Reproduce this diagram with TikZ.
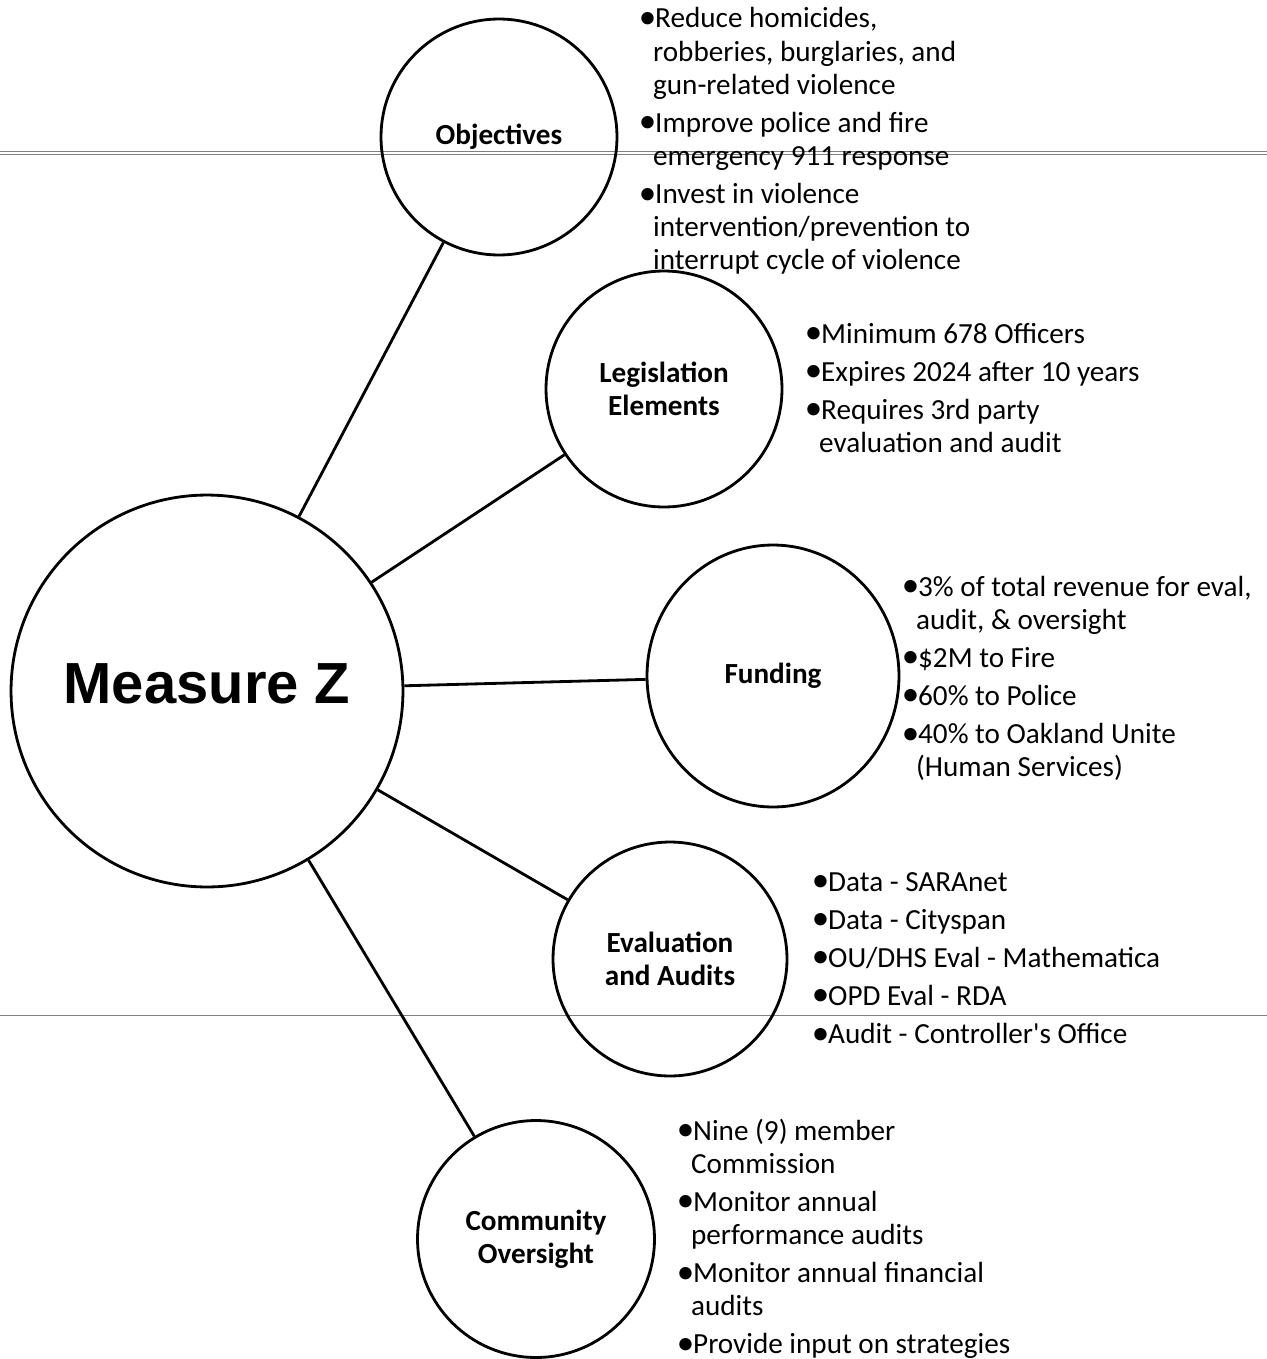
\documentclass[tikz,border=0pt]{standalone}
\usepackage{fontspec}
\setmainfont{Carlito}
\newfontfamily\hubfont{Liberation Sans}
\usetikzlibrary{shapes.geometric}

\newcommand{\bul}{\makebox[0.44em][l]{\hspace{-0.12em}\raisebox{-0.03em}{\scalebox{1.2}{\textbullet}}}}
\newcommand{\cnt}{\hspace*{0.37em}}

\begin{document}
\begin{tikzpicture}[x=0.02cm, y=-0.02cm,
    hub/.style={circle, draw, line width=1.6pt, minimum size=7.84cm, inner sep=0pt,
        font=\hubfont\bfseries\fontsize{33}{40}\selectfont},
    topic/.style={circle, draw, line width=1.6pt, minimum size=4.72cm, inner sep=0pt,
        align=center, font=\bfseries\fontsize{16.6}{18.8}\selectfont},
    bullets/.style={anchor=base west, inner sep=0pt, font=\fontsize{16.6}{18.8}\selectfont},
    link/.style={line width=1.6pt},
    scanline/.style={gray, line width=0.5pt}]

    \useasboundingbox (0,0) rectangle (1267,1359);

    % Scan lines across the page
    \draw[scanline] (0,151) -- (1267,151);
    \draw[scanline] (0,154) -- (1267,154);
    \draw[scanline] (0,1015) -- (1267,1015);

    % Centre circle
    \node[hub, text depth=0.28cm] (mz) at (207,691) {Measure Z};

    % Topic circles
    \node[topic] (obj) at (499,137) {Objectives};
    \node[topic] (leg) at (664,389) {Legislation\\Elements};
    \node[topic, ellipse, minimum width=5.04cm, minimum height=5.24cm] (fund) at (773,676) {Funding};
    \node[topic, minimum size=4.68cm] (eval) at (670,959) {Evaluation\\and Audits};
    \node[topic, minimum size=4.74cm] (comm) at (536,1239) {Community\\Oversight};

    % Links from the centre
    \draw[link] (mz) -- (obj);
    \draw[link] (mz) -- (leg);
    \draw[link] (mz) -- (fund);
    \draw[link] (mz) -- (eval);
    \draw[link] (mz) -- (comm);

    % Bullet lists
    \node[bullets] (objtext) at (642,28) {\begin{tabular}[t]{@{}l@{}}
        \bul Reduce homicides,\\
        \cnt robberies, burglaries, and\\
        \cnt gun-related violence\\[0.1cm]
        \bul Improve police and fire\\
        \cnt emergency 911 response\\[0.1cm]
        \bul Invest in violence\\
        \cnt intervention/prevention to\\
        \cnt interrupt cycle of violence
    \end{tabular}};

    \node[bullets] (legtext) at (808,343) {\begin{tabular}[t]{@{}l@{}}
        \bul Minimum 678 Officers\\[0.1cm]
        \bul Expires 2024 after 10 years\\[0.1cm]
        \bul Requires 3rd party\\
        \cnt evaluation and audit
    \end{tabular}};

    \node[bullets] (fundtext) at (905,596) {\begin{tabular}[t]{@{}l@{}}
        \bul 3\% of total revenue for eval,\\
        \cnt audit, \& oversight\\[0.1cm]
        \bul \$2M to Fire\\[0.1cm]
        \bul 60\% to Police\\[0.1cm]
        \bul 40\% to Oakland Unite\\
        \cnt (Human Services)
    \end{tabular}};

    \node[bullets] (evaltext) at (815,891) {\begin{tabular}[t]{@{}l@{}}
        \bul Data - SARAnet\\[0.1cm]
        \bul Data - Cityspan\\[0.1cm]
        \bul OU/DHS Eval - Mathematica\\[0.1cm]
        \bul OPD Eval - RDA\\[0.1cm]
        \bul Audit - Controller\textquotesingle s Office
    \end{tabular}};

    \node[bullets] (commtext) at (680,1140) {\begin{tabular}[t]{@{}l@{}}
        \bul Nine (9) member\\
        \cnt Commission\\[0.1cm]
        \bul Monitor annual\\
        \cnt performance audits\\[0.1cm]
        \bul Monitor annual financial\\
        \cnt audits\\[0.1cm]
        \bul Provide input on strategies
    \end{tabular}};
\end{tikzpicture}
\end{document}
